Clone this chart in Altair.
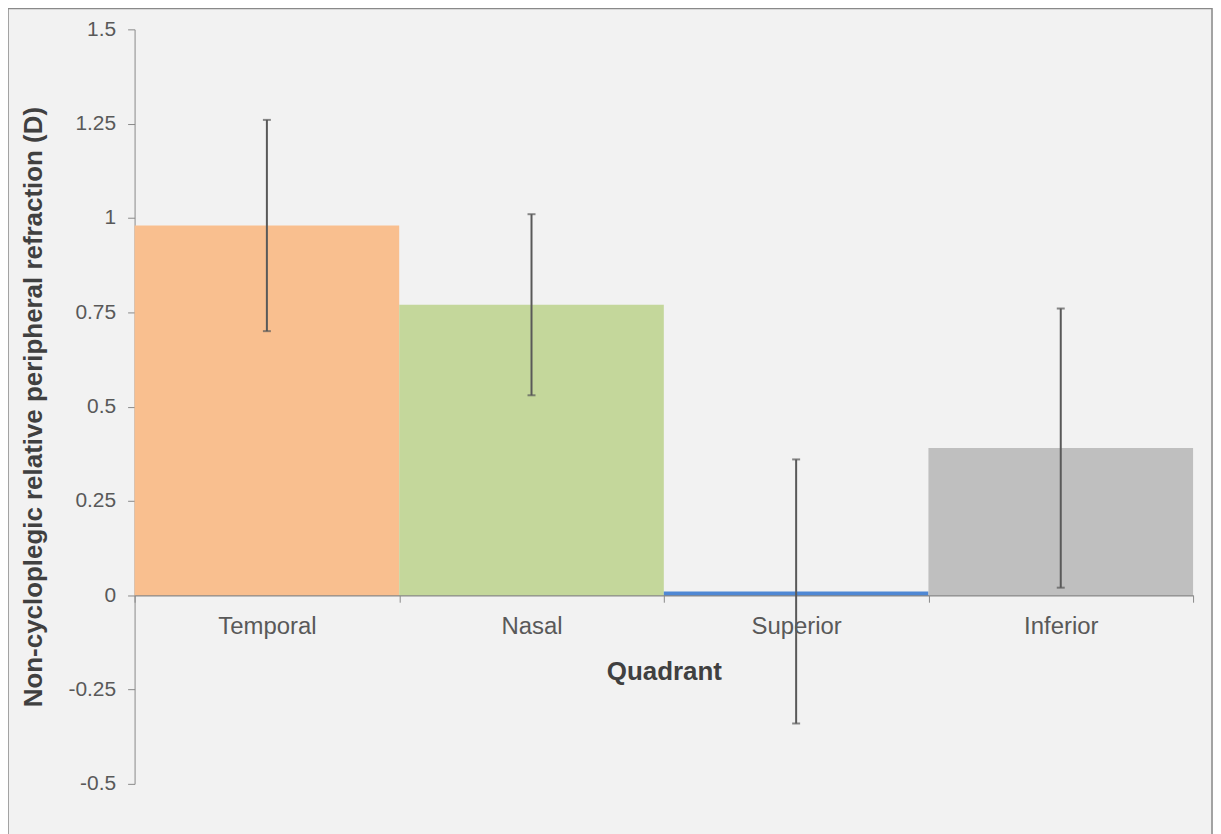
import altair as alt
import pandas as pd

quadrants = ["Temporal", "Nasal", "Superior", "Inferior"]
means = [0.98, 0.77, 0.01, 0.39]
lows = [0.70, 0.53, -0.34, 0.02]
highs = [1.26, 1.01, 0.36, 0.76]
colors = ["#f9bf8f", "#c4d79b", "#4f88d4", "#bfbfbf"]
y_ticks = [-0.5, -0.25, 0, 0.25, 0.5, 0.75, 1, 1.25, 1.5]

df = pd.DataFrame({"Quadrant": quadrants, "mean": means, "low": lows, "high": highs})

W, H = 1062, 757
FONT = "Liberation Sans"

xs = alt.X("Quadrant:N", sort=quadrants,
           scale=alt.Scale(paddingInner=0, paddingOuter=0),
           axis=alt.Axis(title="Quadrant", offset=-H * 0.25, tickBand="extent",
                         labelAngle=0, labelFontSize=24, labelColor="#595959",
                         labelFont=FONT, labelPadding=12, tickSize=7,
                         tickColor="#898989", domainColor="#898989", domainWidth=1.5,
                         titleFont=FONT, titleFontSize=26, titleFontWeight="bold",
                         titleColor="#404040", titlePadding=21))

ys = alt.Y("mean:Q",
           scale=alt.Scale(domain=[-0.5, 1.5], nice=False, zero=False),
           axis=alt.Axis(title="Non-cycloplegic relative peripheral refraction (D)",
                         values=y_ticks, labelExpr="'' + datum.value", grid=False,
                         labelFontSize=21, labelColor="#595959", labelFont=FONT,
                         labelPadding=12, tickSize=7, tickColor="#898989",
                         domainColor="#898989", domainWidth=1,
                         titleFont=FONT, titleFontSize=26, titleFontWeight="bold",
                         titleColor="#404040", titlePadding=22))

bars = alt.Chart(df).mark_bar().encode(
    x=xs, y=ys, y2=alt.datum(0),
    color=alt.Color("Quadrant:N", sort=quadrants,
                    scale=alt.Scale(domain=quadrants, range=colors), legend=None),
)

err = alt.Chart(df).mark_rule(color="#595959", strokeWidth=2).encode(
    x=alt.X("Quadrant:N", sort=quadrants), y="low:Q", y2="high:Q")
cap_lo = alt.Chart(df).mark_tick(color="#595959", thickness=2, size=8, orient="horizontal").encode(
    x=alt.X("Quadrant:N", sort=quadrants), y="low:Q")
cap_hi = alt.Chart(df).mark_tick(color="#595959", thickness=2, size=8, orient="horizontal").encode(
    x=alt.X("Quadrant:N", sort=quadrants), y="high:Q")

border = alt.Chart(pd.DataFrame({"b": [0]})).mark_rect(
    fill=None, stroke="#898989", strokeWidth=1.5).encode(
    x=alt.value(-127), x2=alt.value(W + 19), y=alt.value(-21), y2=alt.value(H + 70))

chart = alt.layer(bars, err, cap_lo, cap_hi, border).properties(
    width=W, height=H,
    background="#f2f2f2",
    autosize=alt.AutoSizeParams(type="none"),
    padding={"left": 127, "top": 20, "right": 20, "bottom": 80},
).configure_view(stroke=None)

chart.save("out.html", embed_options={"renderer": "svg", "actions": False})
